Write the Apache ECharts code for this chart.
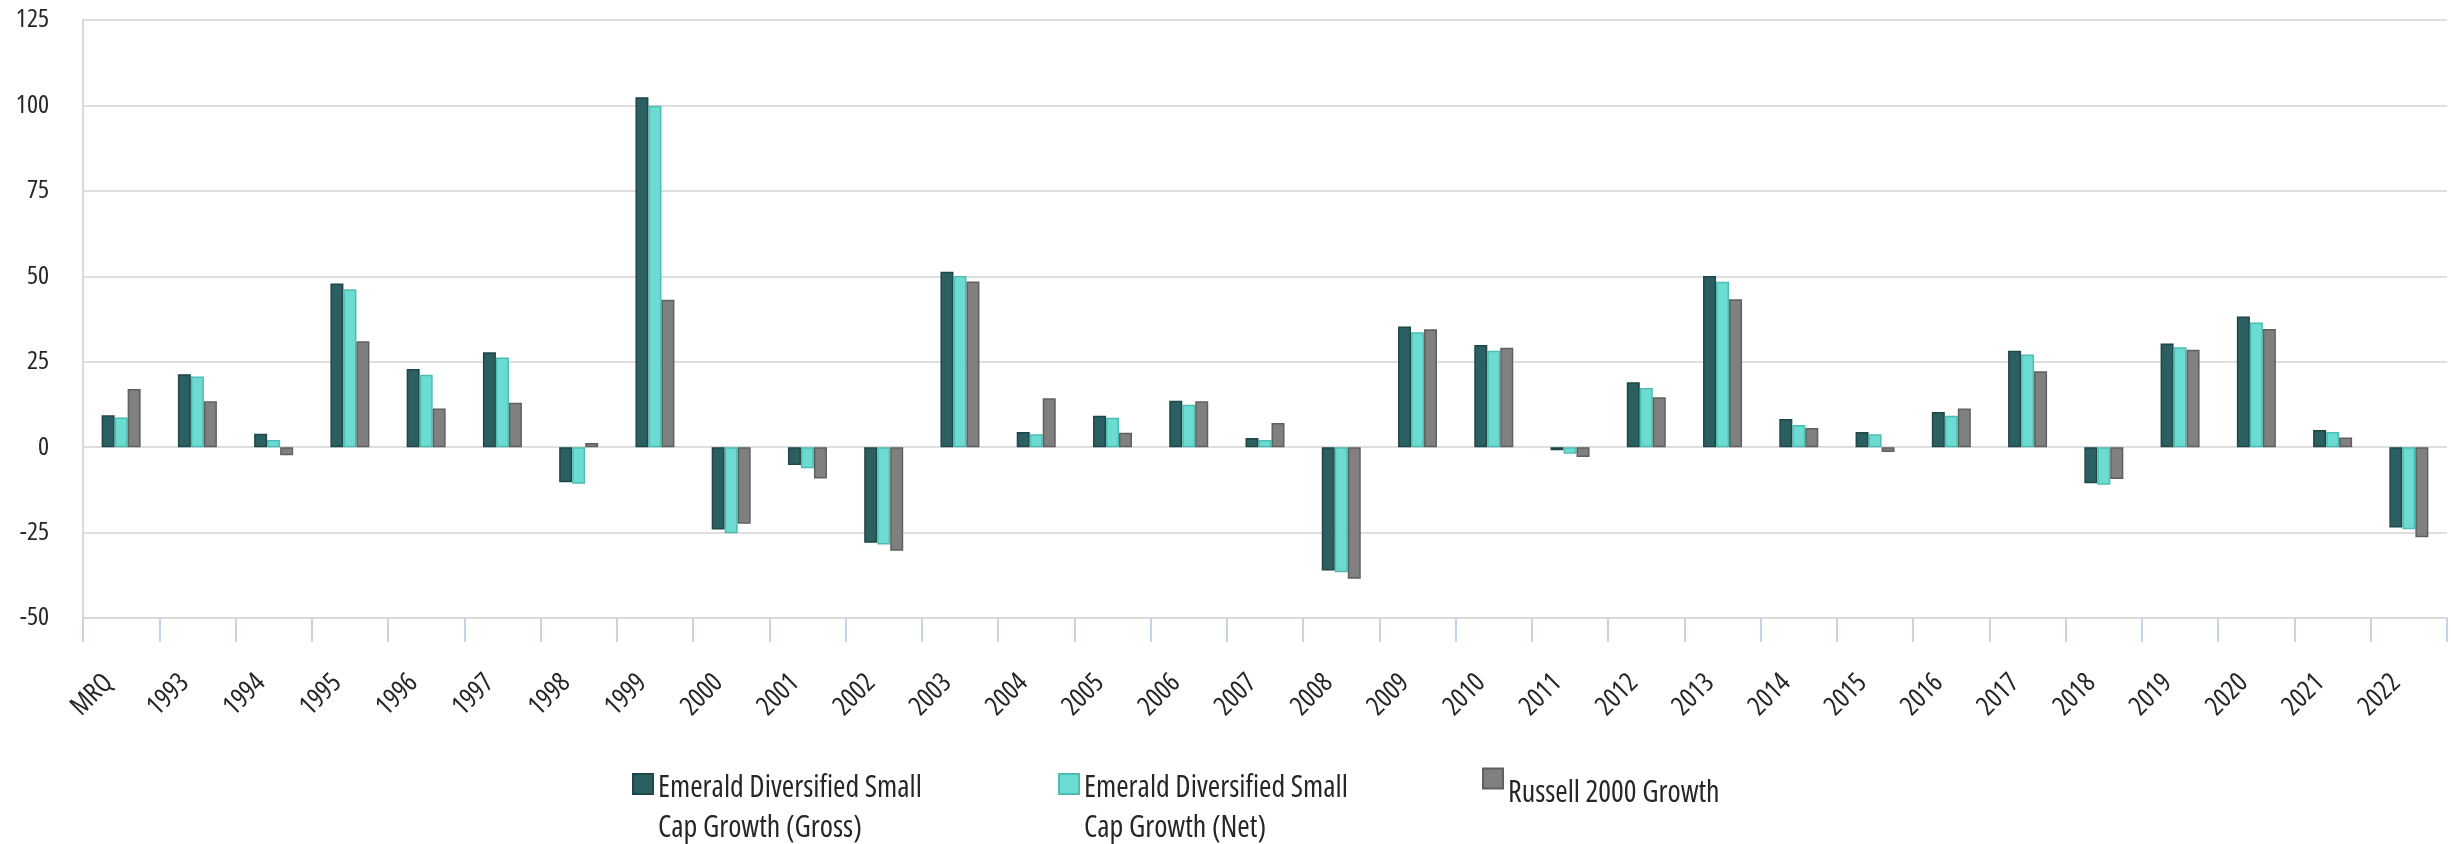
<!DOCTYPE html>
<html>
<head>
<meta charset="utf-8">
<script src="https://cdn.jsdelivr.net/npm/echarts@6/dist/echarts.min.js"></script>
<style>
  html, body { margin: 0; padding: 0; background: #ffffff; }
  #chart { width: 2451px; height: 844px; }
</style>
</head>
<body>
<div id="chart"></div>
<script>
// Calendar-year returns (%), most recent quarter first
const categories = ['MRQ', '1993', '1994', '1995', '1996', '1997', '1998', '1999', '2000', '2001',
  '2002', '2003', '2004', '2005', '2006', '2007', '2008', '2009', '2010', '2011', '2012',
  '2013', '2014', '2015', '2016', '2017', '2018', '2019', '2020', '2021', '2022'];

const grossReturns = [9.3, 21.3, 3.9, 47.9, 22.9, 27.8, -10.3, 102.4, -24.1, -5.2,
  -28.0, 51.3, 4.4, 9.2, 13.6, 2.7, -36.1, 35.3, 29.9, -0.9, 19.0,
  50.1, 8.2, 4.4, 10.3, 28.2, -10.6, 30.3, 38.2, 5.0, -23.5];

const netReturns = [8.7, 20.7, 2.1, 46.2, 21.2, 26.2, -10.7, 99.9, -25.2, -6.2,
  -28.5, 50.1, 3.8, 8.6, 12.4, 2.1, -36.6, 33.6, 28.2, -1.9, 17.3,
  48.4, 6.5, 3.8, 9.2, 27.1, -11.0, 29.2, 36.5, 4.4, -24.0];

const benchmarkReturns = [17.0, 13.4, -2.4, 31.0, 11.3, 13.0, 1.2, 43.1, -22.4, -9.2,
  -30.3, 48.5, 14.3, 4.2, 13.4, 7.1, -38.5, 34.5, 29.1, -2.9, 14.6,
  43.3, 5.6, -1.4, 11.3, 22.2, -9.3, 28.5, 34.6, 2.8, -26.4];

const seriesNames = [
  'Emerald Diversified Small Cap Growth (Gross)',
  'Emerald Diversified Small Cap Growth (Net)',
  'Russell 2000 Growth'
];

// Legend captions, wrapped the way they are printed under the chart
const legendLines = [
  ['Emerald Diversified Small', 'Cap Growth (Gross)'],
  ['Emerald Diversified Small', 'Cap Growth (Net)'],
  ['Russell 2000 Growth']
];

const yMin = -50, yMax = 125, yStep = 25;

// Narrow sans: Open Sans at its condensed width
const FONT = '"Open Sans", "DejaVu Sans Condensed", sans-serif';
const STRETCH = 'condensed';
const TEXT_COLOR = '#262626';

function barSeries(name, data, fill, border) {
  return {
    name: name,
    type: 'bar',
    data: data,
    barWidth: 13,
    barGap: '0%',
    itemStyle: { color: fill, borderColor: border, borderWidth: 1.5 }
  };
}

// One legend block per series so the three entries sit on an even stride;
// every block has the same overall text height so they share one top edge.
const legendLefts = [627, 1053, 1477];
function legendBlock(i) {
  const lines = legendLines[i];
  return {
    left: legendLefts[i],
    top: 734,
    icon: 'rect',
    itemWidth: 20,
    itemHeight: 20,
    data: [seriesNames[i]],
    formatter: function () {
      const body = lines.map(function (l) { return '{t|' + l + '}'; });
      if (lines.length > 1) return ['{g| }'].concat(body).join('\n');
      return ['{h| }'].concat(body, ['{e| }']).join('\n');
    },
    textStyle: {
      fontFamily: FONT,
      fontStyle: STRETCH,
      fontSize: 30,
      color: TEXT_COLOR,
      rich: {
        g: { lineHeight: 48, fontSize: 10 },
        h: { lineHeight: 59, fontSize: 10 },
        e: { lineHeight: 29, fontSize: 10 },
        t: { lineHeight: 40, fontSize: 30, fontFamily: FONT, fontStyle: STRETCH, color: TEXT_COLOR }
      }
    }
  };
}

const chart = echarts.init(document.getElementById('chart'), null, { renderer: 'canvas' });

chart.setOption({
  backgroundColor: '#ffffff',
  animation: false,
  grid: { left: 83, right: 4, top: 20, bottom: 226, containLabel: false },
  xAxis: {
    type: 'category',
    data: categories,
    axisLine: { show: true, onZero: false, lineStyle: { color: '#d9d9d9', width: 2 } },
    axisTick: { show: true, length: 24, lineStyle: { color: '#c5d4e6', width: 2 } },
    axisLabel: {
      rotate: 45,
      margin: 48,
      padding: [0, 18, 0, 0],
      fontFamily: FONT,
      fontStyle: STRETCH,
      fontSize: 27,
      color: TEXT_COLOR,
      interval: 0
    }
  },
  yAxis: {
    type: 'value',
    min: yMin,
    max: yMax,
    interval: yStep,
    axisLine: { show: true, lineStyle: { color: '#d9d9d9', width: 2 } },
    axisTick: { show: false },
    splitLine: { show: true, lineStyle: { color: '#dedede', width: 2 } },
    axisLabel: {
      margin: 34,
      fontFamily: FONT,
      fontStyle: STRETCH,
      fontSize: 26,
      color: TEXT_COLOR
    }
  },
  legend: [legendBlock(0), legendBlock(1), legendBlock(2)],
  series: [
    barSeries(seriesNames[0], grossReturns, '#2b5f61', '#1e4748'),
    barSeries(seriesNames[1], netReturns, '#6cdcd2', '#4cbdb2'),
    barSeries(seriesNames[2], benchmarkReturns, '#808080', '#606060')
  ]
});
</script>
</body>
</html>
